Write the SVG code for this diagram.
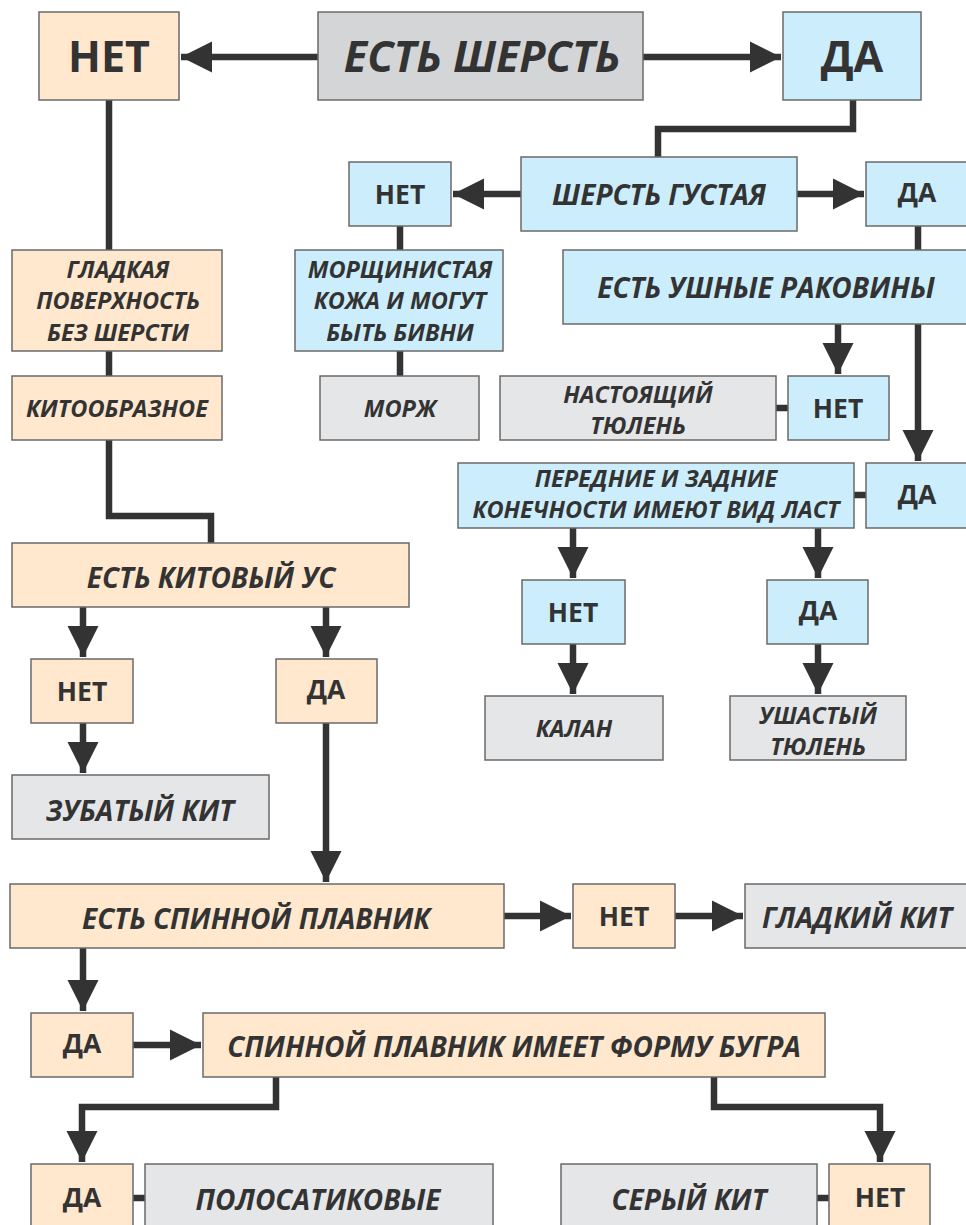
<svg xmlns="http://www.w3.org/2000/svg" width="966" height="1225" viewBox="0 0 966 1225">
<defs>
<style>
.p{fill:#FFE8CE;stroke:#6a6a6a;stroke-width:1.5}
.b{fill:#CCEEFC;stroke:#6a6a6a;stroke-width:1.5}
.g{fill:#E5E6E8;stroke:#6a6a6a;stroke-width:1.5}
.gd{fill:#D4D5D7;stroke:#6a6a6a;stroke-width:1.5}
text{font-family:"Open Sans","DejaVu Sans",sans-serif;font-weight:700;fill:#333;text-anchor:middle}
.i{font-style:italic}
.xl{font-size:43px}
.l{font-size:28px}
.m{font-size:26.5px}
.s{font-size:23.5px}
.c{fill:none;stroke:#333;stroke-width:6.5}
</style>
<marker id="ah" viewBox="0 0 10 10" refX="10" refY="5" markerWidth="4.8" markerHeight="4.8" markerUnits="strokeWidth" orient="auto">
<path d="M0,0 L10,5 L0,10 Z" fill="#333"/>
</marker>
</defs>
<rect width="966" height="1225" fill="#fff"/>
<g id="connectors">
<path class="c" d="M318,57 H181" marker-end="url(#ah)"/>
<path class="c" d="M643,57 H781" marker-end="url(#ah)"/>
<path class="c" d="M109,100 V250"/>
<path class="c" d="M109,351 V376"/>
<path class="c" d="M109,440 V516 H211 V543"/>
<path class="c" d="M853,100 V129 H658 V157"/>
<path class="c" d="M521,194 H453" marker-end="url(#ah)"/>
<path class="c" d="M797,194 H864" marker-end="url(#ah)"/>
<path class="c" d="M400,226 V250"/>
<path class="c" d="M400,351 V376"/>
<path class="c" d="M918,226 V461" marker-end="url(#ah)"/>
<path class="c" d="M838,324 V374" marker-end="url(#ah)"/>
<path class="c" d="M776,408 H788"/>
<path class="c" d="M854,495 H866"/>
<path class="c" d="M573,528 V578" marker-end="url(#ah)"/>
<path class="c" d="M573,644 V694" marker-end="url(#ah)"/>
<path class="c" d="M818,528 V578" marker-end="url(#ah)"/>
<path class="c" d="M818,644 V694" marker-end="url(#ah)"/>
<path class="c" d="M83,607 V657" marker-end="url(#ah)"/>
<path class="c" d="M326,607 V657" marker-end="url(#ah)"/>
<path class="c" d="M83,723 V773" marker-end="url(#ah)"/>
<path class="c" d="M326,723 V882" marker-end="url(#ah)"/>
<path class="c" d="M504,916 H571" marker-end="url(#ah)"/>
<path class="c" d="M675,916 H743" marker-end="url(#ah)"/>
<path class="c" d="M83,948 V1011" marker-end="url(#ah)"/>
<path class="c" d="M133,1045 H201" marker-end="url(#ah)"/>
<path class="c" d="M276,1077 V1107 H82 V1162" marker-end="url(#ah)"/>
<path class="c" d="M714,1077 V1107 H880 V1162" marker-end="url(#ah)"/>
<path class="c" d="M133,1198 H145"/>
<path class="c" d="M817,1198 H829"/>
</g>
<g id="n-net-top"><rect class="p" x="39" y="12" width="140" height="88"/><text class="xl" x="109" y="72">НЕТ</text></g>
<g id="n-est-sherst"><rect class="gd" x="318" y="12" width="325" height="88"/><text class="xl i" x="482" y="72">ЕСТЬ ШЕРСТЬ</text></g>
<g id="n-da-top"><rect class="b" x="783" y="12" width="138" height="88"/><text class="xl" x="852" y="72">ДА</text></g>
<g id="n-gustaya"><rect class="b" x="521" y="157" width="276" height="74"/><text class="l i" x="659" y="205">ШЕРСТЬ ГУСТАЯ</text></g>
<g id="n-net-b1"><rect class="b" x="349" y="162" width="102" height="64"/><text class="m" x="400" y="204">НЕТ</text></g>
<g id="n-da-b1"><rect class="b" x="866" y="162" width="102" height="64"/><text class="m" x="917" y="202">ДА</text></g>
<g id="n-morshch"><rect class="b" x="295" y="250" width="208" height="101"/><text class="s i" x="400" y="278">МОРЩИНИСТАЯ</text><text class="s i" x="400" y="309">КОЖА И МОГУТ</text><text class="s i" x="400" y="341">БЫТЬ БИВНИ</text></g>
<g id="n-ushnye"><rect class="b" x="563" y="250" width="405" height="74"/><text class="l i" x="766" y="298">ЕСТЬ УШНЫЕ РАКОВИНЫ</text></g>
<g id="n-morzh"><rect class="g" x="320" y="376" width="159" height="64"/><text class="s i" x="400" y="417">МОРЖ</text></g>
<g id="n-nast"><rect class="g" x="500" y="376" width="276" height="64"/><text class="s i" x="638" y="403">НАСТОЯЩИЙ</text><text class="s i" x="638" y="434">ТЮЛЕНЬ</text></g>
<g id="n-net-b2"><rect class="b" x="788" y="376" width="101" height="64"/><text class="m" x="838" y="418">НЕТ</text></g>
<g id="n-peredn"><rect class="b" x="458" y="463" width="396" height="65"/><text class="s i" x="656" y="487">ПЕРЕДНИЕ И ЗАДНИЕ</text><text class="s i" x="656" y="518">КОНЕЧНОСТИ ИМЕЮТ ВИД ЛАСТ</text></g>
<g id="n-da-b2"><rect class="b" x="866" y="463" width="102" height="65"/><text class="m" x="917" y="504">ДА</text></g>
<g id="n-net-b3"><rect class="b" x="522" y="580" width="103" height="64"/><text class="m" x="573" y="622">НЕТ</text></g>
<g id="n-da-b3"><rect class="b" x="767" y="580" width="101" height="64"/><text class="m" x="818" y="620">ДА</text></g>
<g id="n-kalan"><rect class="g" x="485" y="696" width="178" height="64"/><text class="s i" x="574" y="737">КАЛАН</text></g>
<g id="n-ushast"><rect class="g" x="730" y="696" width="176" height="64"/><text class="s i" x="818" y="724">УШАСТЫЙ</text><text class="s i" x="818" y="755">ТЮЛЕНЬ</text></g>
<g id="n-gladkaya"><rect class="p" x="12" y="250" width="210" height="101"/><text class="s i" x="118" y="278">ГЛАДКАЯ</text><text class="s i" x="118" y="309">ПОВЕРХНОСТЬ</text><text class="s i" x="118" y="341">БЕЗ ШЕРСТИ</text></g>
<g id="n-kitoobr"><rect class="p" x="12" y="376" width="210" height="64"/><text class="s i" x="117" y="417">КИТООБРАЗНОЕ</text></g>
<g id="n-kitovy-us"><rect class="p" x="12" y="543" width="397" height="64"/><text class="l i" x="211" y="588">ЕСТЬ КИТОВЫЙ УС</text></g>
<g id="n-net-p1"><rect class="p" x="31" y="659" width="102" height="64"/><text class="m" x="82" y="701">НЕТ</text></g>
<g id="n-da-p1"><rect class="p" x="276" y="659" width="101" height="64"/><text class="m" x="326" y="699">ДА</text></g>
<g id="n-zubaty"><rect class="g" x="12" y="775" width="257" height="64"/><text class="l i" x="140" y="821">ЗУБАТЫЙ КИТ</text></g>
<g id="n-spinnoy"><rect class="p" x="10" y="884" width="494" height="64"/><text class="l i" x="256" y="929">ЕСТЬ СПИННОЙ ПЛАВНИК</text></g>
<g id="n-net-p2"><rect class="p" x="573" y="884" width="102" height="64"/><text class="m" x="624" y="926">НЕТ</text></g>
<g id="n-gladkiy"><rect class="g" x="745" y="884" width="223" height="64"/><text class="l i" x="857" y="928">ГЛАДКИЙ КИТ</text></g>
<g id="n-da-p2"><rect class="p" x="31" y="1013" width="102" height="64"/><text class="m" x="82" y="1053">ДА</text></g>
<g id="n-bugor"><rect class="p" x="203" y="1013" width="622" height="64"/><text class="l i" x="514" y="1057">СПИННОЙ ПЛАВНИК ИМЕЕТ ФОРМУ БУГРА</text></g>
<g id="n-da-p3"><rect class="p" x="31" y="1164" width="102" height="70"/><text class="m" x="82" y="1207">ДА</text></g>
<g id="n-polosat"><rect class="g" x="145" y="1164" width="348" height="70"/><text class="l i" x="318" y="1210">ПОЛОСАТИКОВЫЕ</text></g>
<g id="n-sery"><rect class="g" x="561" y="1164" width="256" height="70"/><text class="l i" x="689" y="1210">СЕРЫЙ КИТ</text></g>
<g id="n-net-p3"><rect class="p" x="829" y="1164" width="101" height="70"/><text class="m" x="880" y="1207">НЕТ</text></g>
</svg>
